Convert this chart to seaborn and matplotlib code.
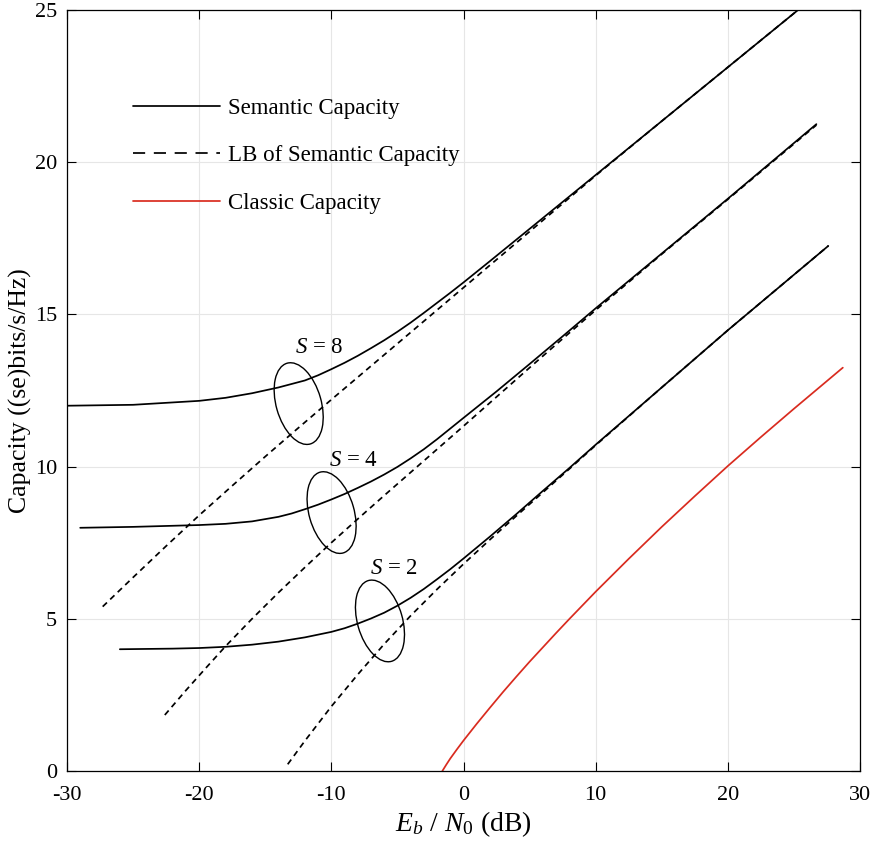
import numpy as np
import pandas as pd
import seaborn as sns
import matplotlib.pyplot as plt
import matplotlib.transforms as mtransforms
from matplotlib.patches import Ellipse
from matplotlib.lines import Line2D

# ---- data (Eb/N0 in dB, capacity in bits/s/Hz) ----
x_s8 = [-30, -25, -20, -18, -16, -14, -12, -11, -10, -9, -8, -7, -6, -5, -4, -3, -2, -1, 0, 1, 2, 5, 10, 15,
        20, 25, 26]
y_s8 = [12.0, 12.03, 12.16, 12.26, 12.41, 12.6, 12.83, 13.0, 13.2, 13.41, 13.64, 13.89, 14.15, 14.43, 14.73,
        15.05, 15.38, 15.71, 16.05, 16.4, 16.75, 17.81, 19.58, 21.35, 23.12, 24.89, 25.24]

x_s8_lb = [-27.3, -25, -22.5, -20, -17.5, -15, -12.5, -10, -7.5, -5, -2.5, 0, 2.5, 5, 7.5, 10, 15, 20, 25, 26]
y_s8_lb = [5.4, 6.36, 7.39, 8.4, 9.37, 10.33, 11.27, 12.2, 13.12, 14.04, 14.96, 15.88, 16.8, 17.72, 18.64,
           19.56, 21.35, 23.12, 24.89, 25.24]

x_s4 = [-29, -25, -20, -18, -16, -14, -13, -12, -11, -10, -9, -8, -7, -6, -5, -4, -3, -2, -1, 0, 2.5, 5, 7.5,
        10, 15, 20, 26.7]
y_s4 = [7.99, 8.02, 8.08, 8.12, 8.2, 8.35, 8.46, 8.6, 8.75, 8.92, 9.1, 9.3, 9.51, 9.74, 9.99, 10.27, 10.57,
        10.9, 11.25, 11.6, 12.47, 13.37, 14.28, 15.2, 17.0, 18.8, 21.25]

x_s4_lb = [-22.6, -21, -19.5, -18, -16, -14, -12, -10, -8, -6, -4, -2, 0, 2.5, 5, 7.5, 10, 15, 20, 26.7]
y_s4_lb = [1.84, 2.65, 3.38, 4.1, 5.0, 5.86, 6.69, 7.5, 8.28, 9.05, 9.81, 10.57, 11.33, 12.29, 13.25, 14.2,
           15.14, 16.98, 18.78, 21.22]

x_s2 = [-26, -22, -20, -18, -16, -14, -12, -10, -9, -8, -7, -6, -5, -4, -3, -2, -1, 0, 1, 2, 4, 6, 8, 10, 15,
        20, 27.6]
y_s2 = [4.0, 4.02, 4.04, 4.08, 4.15, 4.25, 4.39, 4.57, 4.69, 4.84, 5.01, 5.2, 5.43, 5.69, 5.98, 6.3, 6.63,
        6.98, 7.34, 7.7, 8.44, 9.2, 9.95, 10.72, 12.6, 14.48, 17.25]

x_s2_lb = [-13.3, -12, -10, -8, -6, -4, -2, 0, 2, 4, 6, 8, 10, 15, 20, 27.6]
y_s2_lb = [0.22, 0.99, 2.12, 3.17, 4.17, 5.1, 5.97, 6.8, 7.6, 8.38, 9.15, 9.92, 10.7, 12.6, 14.48, 17.25]

x_classic = [-1.6, -1.3, -1, -0.5, 0, 1, 2, 3, 4, 5, 6, 7, 8, 9, 10, 12.5, 15, 17.5, 20, 22.5, 25, 28.7]
y_classic = [0, 0.21, 0.41, 0.71, 1.0, 1.55, 2.08, 2.6, 3.1, 3.59, 4.06, 4.53, 4.99, 5.44, 5.89, 6.97, 8.02,
             9.03, 10.02, 10.97, 11.9, 13.25]

s_values = [8, 4, 2]
legend_labels = ['Semantic Capacity', 'LB of Semantic Capacity', 'Classic Capacity']

# annotation placement (ellipse centres and label anchors, data coords)
ellipse_pos = [(-12.47, 12.07), (-9.98, 8.49), (-6.32, 4.93)]
label_pos = [(-10.92, 13.74), (-8.34, 10.02), (-5.29, 6.47)]

sns.set_theme(style='ticks')
plt.rcParams['font.family'] = ['Liberation Serif', 'DejaVu Serif']
plt.rcParams['mathtext.fontset'] = 'custom'
plt.rcParams['mathtext.rm'] = 'Liberation Serif'
plt.rcParams['mathtext.it'] = 'Liberation Serif:italic'
plt.rcParams['mathtext.bf'] = 'Liberation Serif:bold'
plt.rcParams['axes.unicode_minus'] = False
plt.rcParams['text.color'] = 'black'
plt.rcParams['axes.labelcolor'] = 'black'

red = '#d92b1f'
lw = 1.25
plot_dash = (3.4, 2.6)

fig = plt.figure(figsize=(8.77, 8.44), dpi=100)
ax = fig.add_axes([67 / 877, 1 - 771 / 844, 793 / 877, 761 / 844])

solid_sets = [(x_s8, y_s8), (x_s4, y_s4), (x_s2, y_s2)]
lb_sets = [(x_s8_lb, y_s8_lb), (x_s4_lb, y_s4_lb), (x_s2_lb, y_s2_lb)]

for xs, ys in lb_sets:
    df = pd.DataFrame({'x': xs, 'y': ys})
    sns.lineplot(data=df, x='x', y='y', ax=ax, color='black', lw=lw,
                 estimator=None, errorbar=None, sort=False)
    ax.lines[-1].set_dashes(plot_dash)

for xs, ys in solid_sets:
    df = pd.DataFrame({'x': xs, 'y': ys})
    sns.lineplot(data=df, x='x', y='y', ax=ax, color='black', lw=lw,
                 estimator=None, errorbar=None, sort=False)

df_c = pd.DataFrame({'x': x_classic, 'y': y_classic})
sns.lineplot(data=df_c, x='x', y='y', ax=ax, color=red, lw=lw,
             estimator=None, errorbar=None, sort=False)

# ellipses drawn in pixel space around each curve group
for (cx, cy) in ellipse_pos:
    tr = mtransforms.IdentityTransform() + mtransforms.ScaledTranslation(cx, cy, ax.transData)
    ax.add_patch(Ellipse((0, 0), 45, 84, angle=16, fill=False, ec='black',
                         lw=1.0, transform=tr, clip_on=False))

for s, (lx, ly) in zip(s_values, label_pos):
    ax.text(lx, ly, '$S$ = %d' % s, ha='center', va='baseline', fontsize=16.5, color='black')

ax.set_xlim(-30, 30)
ax.set_ylim(0, 25)
ax.set_xticks(np.arange(-30, 31, 10))
ax.set_yticks(np.arange(0, 26, 5))
ax.grid(True, color='#e6e6e6', lw=0.8)
ax.set_axisbelow(True)
ax.tick_params(direction='in', length=6.5, width=0.8, top=True, right=True,
               labelsize=16, colors='black')
ax.tick_params(axis='x', pad=11)
ax.tick_params(axis='y', pad=7)
for sp in ax.spines.values():
    sp.set_color('black')
    sp.set_linewidth(0.9)

ax.set_xlabel('$E_b$ / $N_0$ (dB)', fontsize=20, labelpad=3, color='black')
ax.set_ylabel('Capacity ((se)bits/s/Hz)', fontsize=18.5, labelpad=2, color='black')

handles = [Line2D([], [], color='black', lw=lw),
           Line2D([], [], color='black', lw=lw, dashes=(7, 5)),
           Line2D([], [], color=red, lw=lw)]
leg = ax.legend(handles, legend_labels, loc='upper left', bbox_to_anchor=(0.083, 0.885),
                frameon=False, fontsize=16.5, handlelength=3.8, handletextpad=0.35,
                labelspacing=1.17, borderpad=0, borderaxespad=0)
for t in leg.get_texts():
    t.set_color('black')

fig.savefig('out.png', dpi=100)
